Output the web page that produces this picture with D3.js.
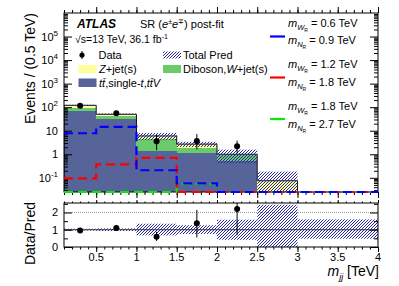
<!DOCTYPE html>
<html>
<head>
<meta charset="utf-8">
<script src="https://cdn.jsdelivr.net/npm/d3@7"></script>
<style>
  body { margin: 0; background: #fff; }
  text { font-family: "Liberation Sans", Arial, sans-serif; fill: #000; }
</style>
</head>
<body>
<svg width="399" height="286"></svg>
<script>
// bins in m_jj [TeV]
const binEdges = [0.1, 0.5, 1.0, 1.5, 2.0, 2.5, 3.0, 3.5, 4.0];

// background stack, events / 0.5 TeV
const ttbar   = [68, 33, 1.4, 1.1, 0.52, 0, 0, 0];
const diboson = [22, 10, 3.0, 0.8, 0.43, 0, 0, 0];
const zjets   = [30,  7, 1.6, 0.8, 0.05, 0.075, 0, 0];

// data
const dataVals = [115, 55, 3.6, 3.7, 2.2];
const dataLo   = [104, 48, 1.5, 1.6, 1.1];
const dataHi   = [126, 63, 7.0, 7.2, 3.8];
const ratioErrLo = [0.90, 1.03, 0.35, 0.55, 0.70];
const ratioErrHi = [1.02, 1.17, 0.88, 2.15, 2.60];

// relative uncertainty band (Data/Pred panel)
const bandLo = [0.95, 0.93, 0.67, 0.75, 0.42, 0.00, 0.48, 0.48];
const bandHi = [1.06, 1.08, 1.35, 1.26, 1.58, 2.45, 1.60, 1.60];

// signals (values under the axis end up on the bottom edge)
const sigBlue  = [7.8, 14.5, 0.21, 0.058, 0.001, 0.001, 0.001, 0.001];
const sigRed   = [0.095, 0.37, 0.70, 0.001, 0.001, 0.001, 0.001, 0.001];
const sigGreen = [0.001, 0.001, 0.001, 0.055, 0.001, 0.001, 0.001, 0.001];

const yTicksMain = [-1, 0, 1, 2, 3, 4, 5];
const xTickLabels = ['0.5', '1', '1.5', '2', '2.5', '3', '3.5', '4'];

const svg = d3.select('svg');
const L = 64, R = 378, T = 13, B = 192, RT = 203, RB = 247;

const x = d3.scaleLinear().domain([0.1, 4]).range([L, R]);
const y = d3.scaleLog().domain([0.025, 1e6]).range([B, T]).clamp(true);
const yr = d3.scaleLinear().domain([0, 2.55]).range([RB, RT]).clamp(true);
const yv = v => y(Math.max(v, 1e-4));

const bins = d3.range(ttbar.length).map(i => ({
  i, x0: binEdges[i], x1: binEdges[i + 1],
  ttbar: ttbar[i], diboson: diboson[i], zjets: zjets[i]
}));
bins.forEach(b => { b.total = b.ttbar + b.diboson + b.zjets; });

const defs = svg.append('defs');
defs.append('clipPath').attr('id', 'clipMain')
  .append('rect').attr('x', L).attr('y', T).attr('width', R - L).attr('height', B - T);
defs.append('clipPath').attr('id', 'clipRatio')
  .append('rect').attr('x', L).attr('y', RT).attr('width', R - L).attr('height', RB - RT);
const pat = defs.append('pattern').attr('id', 'hatch')
  .attr('patternUnits', 'userSpaceOnUse').attr('width', 3).attr('height', 3);
pat.append('path').attr('d', 'M-1,1 l2,-2 M0,3 l3,-3 M2,4 l2,-2')
  .attr('stroke', '#2626a6').attr('stroke-width', 1);

// ---- main panel ----
const gMain = svg.append('g').attr('clip-path', 'url(#clipMain)');
const stack = d3.stack().keys(['ttbar', 'diboson', 'zjets'])(bins);
const colors = { ttbar: '#56649a', diboson: '#6bcb6b', zjets: '#ffff99' };

stack.forEach(layer => {
  gMain.append('g').attr('shape-rendering', 'crispEdges').selectAll('rect')
    .data(layer.filter(d => d[1] - d[0] > 0))
    .join('rect')
    .attr('x', d => Math.round(x(d.data.x0)))
    .attr('width', d => Math.round(x(d.data.x1)) - Math.round(x(d.data.x0)))
    .attr('y', d => yv(d[1]))
    .attr('height', d => yv(d[0]) - yv(d[1]))
    .attr('fill', colors[layer.key]);
});

// total outline
const outline = bins.filter(b => b.total > 0);
gMain.append('path')
  .attr('d', (() => {
    let p = d3.path();
    outline.forEach((b, k) => {
      if (k === 0) p.moveTo(x(b.x0), y(0.025));
      p.lineTo(x(b.x0), yv(b.total));
      p.lineTo(x(b.x1), yv(b.total));
    });
    p.lineTo(x(outline[outline.length - 1].x1), y(0.025));
    return p.toString();
  })())
  .attr('fill', 'none').attr('stroke', '#111').attr('stroke-width', 1);

// uncertainty band on stack
gMain.append('g').selectAll('rect')
  .data(bins.filter(b => b.total > 0))
  .join('rect')
  .attr('x', b => x(b.x0))
  .attr('width', b => x(b.x1) - x(b.x0))
  .attr('y', b => yv(b.total * bandHi[b.i]))
  .attr('height', b => yv(b.total * bandLo[b.i]) - yv(b.total * bandHi[b.i]))
  .attr('fill', 'url(#hatch)');

// ---- ratio panel ----
const gRatio = svg.append('g').attr('clip-path', 'url(#clipRatio)');
gRatio.append('line').attr('x1', L).attr('x2', R).attr('y1', yr(2)).attr('y2', yr(2))
  .attr('stroke', '#999').attr('stroke-dasharray', '1,1');
gRatio.append('g').selectAll('rect').data(bins).join('rect')
  .attr('x', b => x(b.x0))
  .attr('width', b => x(b.x1) - x(b.x0))
  .attr('y', b => yr(bandHi[b.i]))
  .attr('height', b => yr(bandLo[b.i]) - yr(bandHi[b.i]))
  .attr('fill', 'url(#hatch)');
gRatio.append('line').attr('x1', L).attr('x2', R).attr('y1', yr(1)).attr('y2', yr(1))
  .attr('stroke', '#333').attr('stroke-width', 1);

// frames
[[T, B], [RT, RB]].forEach(([t, b]) => {
  svg.append('rect').attr('x', L).attr('y', t).attr('width', R - L).attr('height', b - t)
    .attr('fill', 'none').attr('stroke', '#000').attr('stroke-width', 1);
});

// ---- axes (ROOT style, ticks inside on all sides) ----
const xMajor = d3.range(0.5, 4.01, 0.5);
const xMinor = d3.range(0.1, 4.001, 0.1).map(v => +v.toFixed(1));
function xTicks(yPos, len, dir) {
  const ax = (dir > 0 ? d3.axisTop : d3.axisBottom);
  svg.append('g').attr('transform', `translate(0,${yPos})`)
    .call(ax(x).tickValues(xMinor).tickSize(-len / 2).tickFormat(''))
    .call(g => g.select('.domain').remove());
  svg.append('g').attr('transform', `translate(0,${yPos})`)
    .call(ax(x).tickValues(xMajor).tickSize(-len).tickFormat(''))
    .call(g => g.select('.domain').remove());
}
xTicks(B, 6, 1);
xTicks(T, 6, -1);
xTicks(RB, 5, 1);
xTicks(RT, 3, -1);

const yMinor = [];
for (let e = -2; e <= 5; e++) for (let k = 2; k <= 9; k++) {
  const v = k * Math.pow(10, e);
  if (v > 0.025 && v < 1e6) yMinor.push(v);
}
const yMajor = yTicksMain.map(e => Math.pow(10, e));
[[L, d3.axisRight], [R, d3.axisLeft]].forEach(([xp, ax]) => {
  svg.append('g').attr('transform', `translate(${xp},0)`)
    .call(ax(y).tickValues(yMinor).tickSize(4).tickFormat(''))
    .call(g => g.select('.domain').remove());
  svg.append('g').attr('transform', `translate(${xp},0)`)
    .call(ax(y).tickValues(yMajor).tickSize(8).tickFormat(''))
    .call(g => g.select('.domain').remove());
  svg.append('g').attr('transform', `translate(${xp},0)`)
    .call(ax(yr).tickValues([0.5, 1.5, 2.5]).tickSize(4).tickFormat(''))
    .call(g => g.select('.domain').remove());
  svg.append('g').attr('transform', `translate(${xp},0)`)
    .call(ax(yr).tickValues([0, 1, 2]).tickSize(8).tickFormat(''))
    .call(g => g.select('.domain').remove());
});
svg.selectAll('.tick line').attr('stroke', '#000');

// signal lines, drawn over the frame so the clamped parts show on the bottom edge
const stepLine = d3.line().x(d => x(d[0])).y(d => yv(d[1])).curve(d3.curveStepAfter);
function sigPoints(vals) {
  const pts = vals.map((v, i) => [binEdges[i], v]);
  pts.push([binEdges[binEdges.length - 1], vals[vals.length - 1]]);
  return pts;
}
[[sigGreen, '#00ee00'], [sigRed, '#ff0000'], [sigBlue, '#0000ff']].forEach(([vals, col]) => {
  svg.append('path')
    .attr('d', stepLine(sigPoints(vals)))
    .attr('fill', 'none').attr('stroke', col)
    .attr('stroke-width', 2.2).attr('stroke-dasharray', '9,5');
});

// data
const dataPts = dataVals.map((v, i) => ({ i, x: (binEdges[i] + binEdges[i + 1]) / 2, v }));
const gData = svg.append('g');
gData.selectAll('line').data(dataPts).join('line')
  .attr('x1', d => x(d.x)).attr('x2', d => x(d.x))
  .attr('y1', d => yv(dataLo[d.i])).attr('y2', d => yv(dataHi[d.i]))
  .attr('stroke', '#000').attr('stroke-width', 1);
gData.selectAll('circle').data(dataPts).join('circle')
  .attr('cx', d => x(d.x)).attr('cy', d => yv(d.v)).attr('r', 3).attr('fill', '#000');

const gRData = svg.append('g').attr('clip-path', 'url(#clipRatio)');
gRData.selectAll('line').data(dataPts).join('line')
  .attr('x1', d => x(d.x)).attr('x2', d => x(d.x))
  .attr('y1', d => yr(ratioErrLo[d.i])).attr('y2', d => yr(ratioErrHi[d.i]))
  .attr('stroke', '#000');
gRData.selectAll('circle').data(dataPts).join('circle')
  .attr('cx', d => x(d.x)).attr('cy', d => yr(d.v / bins[d.i].total)).attr('r', 3).attr('fill', '#000');

// rich text helper
function rich(g, xp, yp, parts, opts = {}) {
  const t = g.append('text').attr('x', xp).attr('y', yp)
    .attr('font-size', opts.size || 11)
    .attr('text-anchor', opts.anchor || 'start');
  let cur = 0;
  parts.forEach(p => {
    const s = t.append('tspan').text(p.t);
    const off = p.dy || 0;
    s.attr('dy', off - cur); cur = off;
    if (p.i) s.attr('font-style', 'italic');
    if (p.b) s.attr('font-weight', 'bold');
    if (p.fs) s.attr('font-size', p.fs);
  });
  return t;
}

// y tick labels
yTicksMain.forEach(e => {
  const yp = y(Math.pow(10, e)) + 4;
  if (e === 0) rich(svg, 58, yp, [{ t: '1' }], { anchor: 'end', size: 11 });
  else if (e === 1) rich(svg, 58, yp, [{ t: '10' }], { anchor: 'end', size: 11 });
  else rich(svg, 58, yp, [{ t: '10' }, { t: String(e), fs: 8, dy: -5 }], { anchor: 'end', size: 11 });
});
[0, 1, 2].forEach(v => rich(svg, 58, yr(v) + 4, [{ t: String(v) }], { anchor: 'end', size: 11 }));

// x tick labels
xMajor.forEach((v, k) => rich(svg, x(v), 261, [{ t: xTickLabels[k] }], { anchor: 'middle', size: 11 }));

// axis titles
svg.append('text').attr('transform', `translate(35,${T}) rotate(-90)`)
  .attr('text-anchor', 'end').attr('font-size', 14).text('Events / (0.5 TeV)');
svg.append('text').attr('transform', `translate(35,${RT - 1}) rotate(-90)`)
  .attr('text-anchor', 'end').attr('font-size', 14).text('Data/Pred');
rich(svg, 379, 276, [{ t: 'm', i: true }, { t: 'jj', i: true, fs: 9, dy: 4 }, { t: ' [TeV]' }],
  { anchor: 'end', size: 14 });

// ---- labels & legend ----
rich(svg, 77, 28, [{ t: 'ATLAS', i: true, b: true }], { size: 12 });
rich(svg, 140, 28, [{ t: 'SR (' }, { t: 'e', i: true }, { t: '±', fs: 7, dy: -4 },
  { t: 'e', i: true }, { t: '∓', fs: 7, dy: -4 }, { t: ') post-fit' }], { size: 11 });
rich(svg, 75, 42.5, [{ t: '√s=13 TeV, 36.1 fb' }, { t: '-1', fs: 7, dy: -4 }], { size: 10.5 });

const leg = svg.append('g');
leg.append('line').attr('x1', 82).attr('x2', 82).attr('y1', 51).attr('y2', 59).attr('stroke', '#000');
leg.append('circle').attr('cx', 82).attr('cy', 55).attr('r', 2.6).attr('fill', '#000');
rich(leg, 98.5, 59, [{ t: 'Data' }]);
leg.append('rect').attr('x', 163).attr('y', 51.5).attr('width', 18).attr('height', 7).attr('fill', 'url(#hatch)');
rich(leg, 183, 59, [{ t: 'Total Pred' }]);
leg.append('rect').attr('x', 78.5).attr('y', 65).attr('width', 18).attr('height', 8).attr('fill', colors.zjets);
rich(leg, 99, 73, [{ t: 'Z', i: true }, { t: '+jet(s)' }]);
leg.append('rect').attr('x', 163).attr('y', 65).attr('width', 18).attr('height', 8).attr('fill', colors.diboson);
rich(leg, 183, 73, [{ t: 'Diboson,' }, { t: 'W', i: true }, { t: '+jet(s)' }]);
leg.append('rect').attr('x', 78.5).attr('y', 78.5).attr('width', 18).attr('height', 8.5).attr('fill', colors.ttbar);
rich(leg, 99, 87, [{ t: 'tt\u0304', i: true }, { t: ',single-' }, { t: 't', i: true }, { t: ',' },
  { t: 'tt\u0304V', i: true }]);

// signal legend
const sigLeg = [
  ['#0000ff', '0.6', '0.9', 27, 44, 36.5],
  ['#ff0000', '1.2', '1.8', 68, 86, 77.5],
  ['#00ee00', '1.8', '2.7', 110, 128, 119]
];
sigLeg.forEach(([col, w, n, y1, y2, ly]) => {
  leg.append('line').attr('x1', 270).attr('x2', 285).attr('y1', ly).attr('y2', ly)
    .attr('stroke', col).attr('stroke-width', 2.2);
  rich(leg, 288, y1, [{ t: 'm', i: true }, { t: 'W', i: true, fs: 7.5, dy: 3 },
    { t: 'R', fs: 5, dy: 5 }, { t: ' = ' + w + ' TeV', dy: 0 }]);
  rich(leg, 288, y2, [{ t: 'm', i: true }, { t: 'N', i: true, fs: 7.5, dy: 3 },
    { t: 'R', fs: 5, dy: 5 }, { t: ' = ' + n + ' TeV', dy: 0 }]);
});
</script>
</body>
</html>
